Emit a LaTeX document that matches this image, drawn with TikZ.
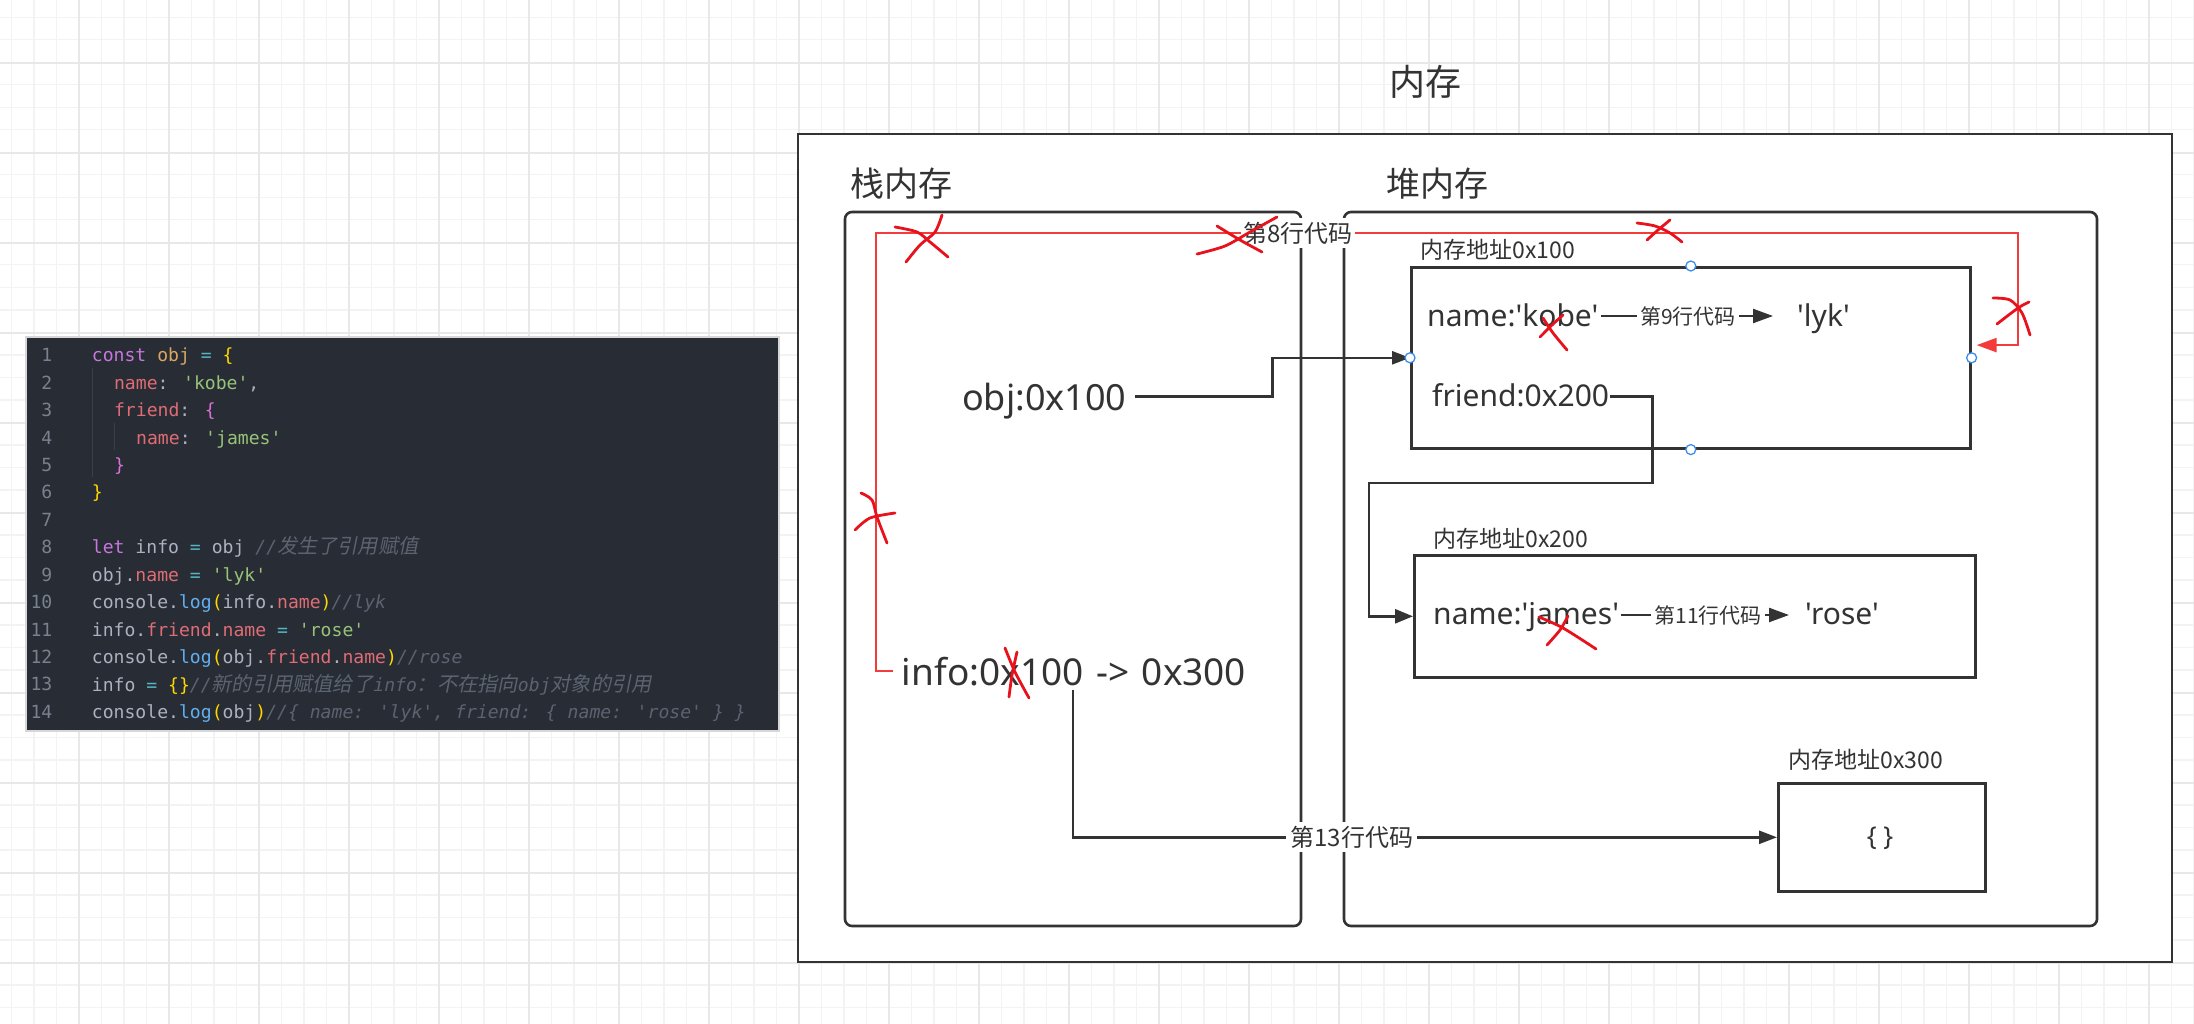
\documentclass[tikz,border=0pt]{standalone}
\usepackage{fontspec}
\usetikzlibrary{arrows.meta,calc}
\newfontfamily\lat{Noto Sans}[Ligatures=TeXOff]
\newfontfamily\cjk{Noto Sans CJK SC}
\newfontfamily\cjkit{Noto Sans CJK SC}[FakeSlant=0.2]
\newfontfamily\codefont{DejaVu Sans Mono}[Ligatures=TeXOff]
\definecolor{txt}{HTML}{333333}
\definecolor{gminor}{HTML}{F3F3F3}
\definecolor{gmajor}{HTML}{E8E8E8}
\definecolor{panel}{HTML}{282C34}
\definecolor{ckw}{HTML}{C678DD}
\definecolor{cvar}{HTML}{D9A760}
\definecolor{cop}{HTML}{56B6C2}
\definecolor{cbra}{HTML}{FFD700}
\definecolor{cbrb}{HTML}{DA70D6}
\definecolor{cprop}{HTML}{E06C75}
\definecolor{cstr}{HTML}{98C379}
\definecolor{ctxt}{HTML}{ABB2BF}
\definecolor{cfn}{HTML}{61AFEF}
\definecolor{ccom}{HTML}{5C6370}
\definecolor{cnum}{HTML}{7A818E}
\definecolor{cguide}{HTML}{3B4048}
\definecolor{redln}{HTML}{F23C3C}
\definecolor{redx}{HTML}{E8121C}
\definecolor{handle}{HTML}{3B8EEA}
\newcommand\Ctx[1]{\textcolor{ctxt}{#1}}
\newcommand\Ckw[1]{\textcolor{ckw}{#1}}
\newcommand\Cvr[1]{\textcolor{cvar}{#1}}
\newcommand\Cop[1]{\textcolor{cop}{#1}}
\newcommand\Cba[1]{\textcolor{cbra}{#1}}
\newcommand\Cbb[1]{\textcolor{cbrb}{#1}}
\newcommand\Cpr[1]{\textcolor{cprop}{#1}}
\newcommand\Cst[1]{\textcolor{cstr}{#1}}
\newcommand\Cfn[1]{\textcolor{cfn}{#1}}
\newcommand\Ccm[1]{\textcolor{ccom}{\itshape #1}}
\newcommand\Zh[1]{{\cjkit\fontsize{20.2}{24}\selectfont #1}}
\tikzset{
  minorgrid/.style={draw=gminor,line width=1.4pt},
  majorgrid/.style={draw=gmajor,line width=1.6pt},
  boxline/.style={draw=txt,line width=2.6pt},
  conn/.style={draw=txt,line width=2.6pt,-{Triangle[length=18pt,width=13pt]}},
  redconn/.style={draw=redln,line width=2.4pt,-{Triangle[length=20pt,width=14pt]}},
  xmark/.style={draw=redx,line width=2.8pt,line cap=round,line join=round},
  handlept/.style={circle,draw=handle,fill=white,line width=1.3pt,minimum size=10pt,inner sep=0pt},
  zhbig/.style={text=txt,inner sep=0pt,font=\cjk\fontsize{#1}{#1}\selectfont},
  lattext/.style={text=txt,inner sep=0pt,anchor=base west,font=\lat\fontsize{#1}{#1}\selectfont},
  lbl/.style={fill=white,text=txt,inner sep=3pt,font=\cjk\fontsize{#1}{#1}\selectfont},
  codeln/.style={anchor=base west,inner sep=0pt,text=ctxt,font=\codefont\fontsize{18.1}{20}\selectfont},
  lnum/.style={anchor=base east,inner sep=0pt,text=cnum,font=\codefont\fontsize{18.1}{20}\selectfont}
}
\begin{document}
\begin{tikzpicture}[x=1pt,y=-1pt]
\useasboundingbox (0,0) rectangle (2194,1024);
\fill[white] (0,0) rectangle (2194,1024);
% grid
\foreach \i in {0,...,97} {\draw[minorgrid] (11.3+22.5*\i,0) -- (11.3+22.5*\i,1024);}
\foreach \j in {0,...,44} {\draw[minorgrid] (0,17.3+22.5*\j) -- (2194,17.3+22.5*\j);}
\foreach \i in {0,...,23} {\draw[majorgrid] (78.8+90*\i,0) -- (78.8+90*\i,1024);}
\foreach \j in {0,...,10} {\draw[majorgrid] (0,62.8+90*\j) -- (2194,62.8+90*\j);}

% code panel
\node[draw={rgb,255:red,215;green,215;blue,215},line width=2pt,fill=panel,inner sep=0pt,minimum width=753pt,minimum height=394pt,anchor=north west] (panel) at (25,336) {};
\draw[cguide,line width=1pt] (92,368) -- (92,477);
\draw[cguide,line width=1pt] (114,423) -- (114,450);
\foreach \k in {1,...,14} {\node[lnum] (ln\k) at (52.5,361.7+27.44*\k-27.44) {\k};}
\node[codeln] (c1) at (91.7,361.7) {\Ckw{const} \Cvr{obj} \Cop{=} \Cba{\{}};
\node[codeln] (c2) at (113.9,389.1) {\Cpr{name}\Ctx{:} \Cst{'kobe'}\Ctx{,}};
\node[codeln] (c3) at (113.9,416.6) {\Cpr{friend}\Ctx{:} \Cbb{\{}};
\node[codeln] (c4) at (136.0,444.0) {\Cpr{name}\Ctx{:} \Cst{'james'}};
\node[codeln] (c5) at (113.9,471.5) {\Cbb{\}}};
\node[codeln] (c6) at (91.7,498.9) {\Cba{\}}};
\node[codeln] (c8) at (91.7,553.8) {\Ckw{let} \Ctx{info} \Cop{=} \Ctx{obj} \Ccm{//\Zh{发生了引用赋值}}};
\node[codeln] (c9) at (91.7,581.2) {\Ctx{obj.}\Cpr{name} \Cop{=} \Cst{'lyk'}};
\node[codeln] (c10) at (91.7,608.7) {\Ctx{console.}\Cfn{log}\Cba{(}\Ctx{info.}\Cpr{name}\Cba{)}\Ccm{//lyk}};
\node[codeln] (c11) at (91.7,636.1) {\Ctx{info.}\Cpr{friend}\Ctx{.}\Cpr{name} \Cop{=} \Cst{'rose'}};
\node[codeln] (c12) at (91.7,663.6) {\Ctx{console.}\Cfn{log}\Cba{(}\Ctx{obj.}\Cpr{friend}\Ctx{.}\Cpr{name}\Cba{)}\Ccm{//rose}};
\node[codeln] (c13) at (91.7,691.0) {\Ctx{info} \Cop{=} \Cba{\{\}}\Ccm{//\Zh{新的引用赋值给了}info\Zh{：不在指向}obj\Zh{对象的引用}}};
\node[codeln] (c14) at (91.7,718.4) {\Ctx{console.}\Cfn{log}\Cba{(}\Ctx{obj}\Cba{)}\Ccm{//\{ name: 'lyk', friend: \{ name: 'rose' \} \}}};

% memory
\node[zhbig=36] (memtitle) at (1425,82) {内存};
\draw[boxline,fill=white,line width=2.4pt] (798,134) rectangle (2172,962);
\node[zhbig=34] (stacktitle) at (901,184) {栈内存};
\node[zhbig=34] (heaptitle) at (1437,184) {堆内存};
\draw[boxline,rounded corners=7pt] (845,212) rectangle (1301,926);
\draw[boxline,rounded corners=7pt] (1344,212) rectangle (2097,926);
\coordinate (stack) at (1073,569);
\coordinate (heap) at (1720,569);

\node[draw=txt,line width=2.6pt,minimum width=559pt,minimum height=181pt,inner sep=0pt,anchor=north west] (box1) at (1410,266) {};
\node[draw=txt,line width=2.6pt,minimum width=561pt,minimum height=122pt,inner sep=0pt,anchor=north west] (box2) at (1413,554) {};
\node[draw=txt,line width=2.6pt,minimum width=207pt,minimum height=108pt,inner sep=0pt,anchor=north west] (box3) at (1777,782) {};
\node[zhbig=23] (addr1) at (1498,250) {内存地址0x100};
\node[zhbig=23] (addr2) at (1511,539) {内存地址0x200};
\node[zhbig=23] (addr3) at (1866,760) {内存地址0x300};
\node[text=txt,inner sep=0pt,font=\lat\fontsize{26}{26}\selectfont] (empty) at (1880,838) {\{ \}};

\node[lattext=36] (obj) at (962,410.7) {obj:0x100};
\node[lattext=37] (info) at (901.7,685) {info:0x100\hspace{3pt} ->\hspace{3pt} 0x300};
\node[lattext=30] (kobe) at (1427,326.7) {name:'kobe'};
\node[lattext=30] (lyk) at (1797,326.7) {'lyk'};
\node[lattext=30] (friend) at (1432,406.7) {friend:0x200};
\node[lattext=30] (james) at (1433,624) {name:'james'};
\node[lattext=30] (rose) at (1805,624) {'rose'};

\coordinate (objout) at (1135,396.7);
\coordinate (kobeout) at (1601,316);
\coordinate (lykin) at (1773,316);
\coordinate (friendout) at (1610,396.7);
\coordinate (fr1) at (1652.7,483);
\coordinate (fr2) at (1369,483);
\coordinate (jamesout) at (1621,615);
\coordinate (rosein) at (1789,615);
\coordinate (infoout) at (1073,690);
\coordinate (redst) at (893,671);
\coordinate (redL) at (876,233);
\coordinate (redR) at (2018,233);

% connectors
\draw[conn] (objout) -| ($(objout)!0.5!(box1.west)$) |- (box1.west);
\draw[conn,line width=2.3pt,-{Triangle[length=20pt,width=14pt]}] (kobeout) -- node[lbl=21,pos=0.506] (l9) {第9行代码} (lykin);
\draw[conn,-{Triangle[length=18pt,width=14pt]}] (friendout) -| (fr1) -- (fr2) |- (box2.west);
\draw[conn,line width=2.3pt,-{Triangle[length=20pt,width=14pt]}] (jamesout) -- node[lbl=21,pos=0.518] (l11) {第11行代码} (rosein);
\draw[conn] (infoout) -- (infoout |- box3.west) -- node[lbl=24,pos=0.396,inner sep=4pt] (l13) {第13行代码} (box3.west);
\draw[redconn] (redst) -| (redL) -- node[lbl=24,pos=0.3695,inner ysep=4pt,inner xsep=2pt] (l8) {第8行代码} (redR) |- ($(box1.east)+(5,-12.7)$);

% handles
\node[handlept] (h1) at (box1.north) {};
\node[handlept] (h2) at (box1.south) {};
\node[handlept] (h3) at (box1.west) {};
\node[handlept] (h4) at (box1.east) {};

% red crosses
\draw[xmark] plot[smooth] coordinates {(895,227) (917,232) (930,242) (948,257)};
\draw[xmark] plot[smooth] coordinates {(942,215) (935,232) (920,245) (906,262)};
\draw[xmark] plot[smooth] coordinates {(1197,254) (1225,246) (1250,232) (1277,217)};
\draw[xmark] plot[smooth] coordinates {(1217,226) (1240,240) (1262,252)};
\draw[xmark] plot[smooth] coordinates {(1637,223) (1655,226) (1670,233) (1682,242)};
\draw[xmark] plot[smooth] coordinates {(1670,220) (1658,230) (1647,240)};
\draw[xmark] plot[smooth] coordinates {(1993,298) (2010,300) (2022,313) (2030,335)};
\draw[xmark] plot[smooth] coordinates {(1997,324) (2018,308) (2029,302)};
\draw[xmark] plot[smooth] coordinates {(1540,337) (1552,325) (1563,315)};
\draw[xmark] plot[smooth] coordinates {(1543,318) (1553,333) (1567,350)};
\draw[xmark] plot[smooth] coordinates {(1539,617) (1563,628) (1596,649)};
\draw[xmark] plot[smooth] coordinates {(1568,616) (1560,630) (1547,645)};
\draw[xmark] plot[smooth] coordinates {(861,493) (872,500) (877,517) (887,543)};
\draw[xmark] plot[smooth] coordinates {(855,530) (870,518) (895,513)};
\draw[xmark] plot[smooth] coordinates {(1005,648) (1015,672) (1029,698)};
\draw[xmark] plot[smooth] coordinates {(1017,652) (1012,675) (1009,697)};
\end{tikzpicture}
\end{document}
